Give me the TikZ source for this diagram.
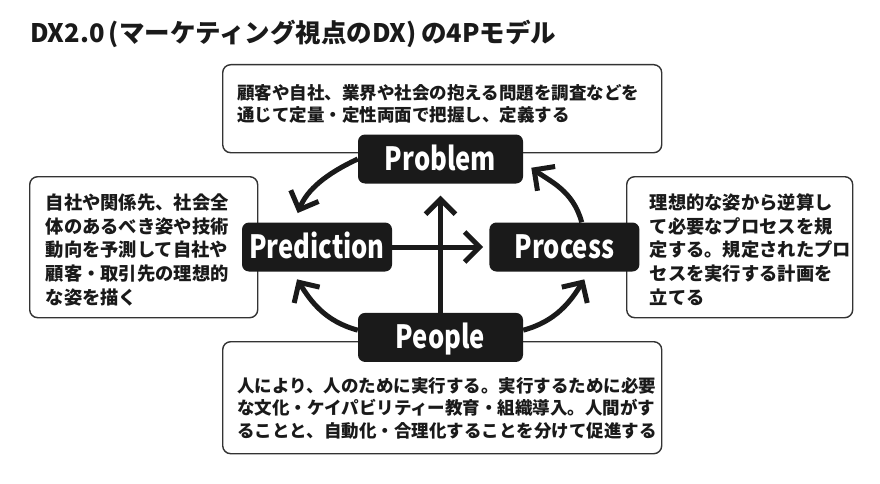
\documentclass[tikz,border=0pt]{standalone}
\usepackage{fontspec}
\setmainfont{Noto Sans CJK JP}
\newfontfamily\tagfont{Noto Sans CJK JP}[FakeStretch=0.8]
\usetikzlibrary{arrows.meta,positioning}
\definecolor{ink}{HTML}{1A1A1A}
\definecolor{frame}{HTML}{333333}
\tikzset{
  card/.style={draw=frame,line width=1.4pt,rounded corners=8pt,fill=white,align=left,
               anchor=north west,inner ysep=12pt,text=ink,
               font=\bfseries\fontsize{17.5}{22.5}\selectfont},
  sidecard/.style={card,font=\bfseries\fontsize{18.3}{23.75}\selectfont,
                   text height=20.7pt,text depth=96.3pt},
  tag/.style={fill=ink,rounded corners=7pt,minimum width=150pt,minimum height=49pt,
              text height=22pt,text depth=0pt,text=white,
              font=\tagfont\bfseries\fontsize{32}{32}\selectfont},
  arrow/.style={-{Straight Barb[length=15pt,width=30pt]},line width=5pt,draw=ink}
}
\begin{document}
\begin{tikzpicture}[x=1pt,y=-1pt]
\path[fill=white] (0,0) rectangle (880,484);
\useasboundingbox (0,0) rectangle (880,484);
\node[anchor=base west,text=ink,inner sep=0pt,font=\bfseries\fontsize{25.5}{25.5}\selectfont] (title) at (30,43)
  {DX2.0\,(マーケティング視点のDX)\,の4Pモデル};
% explanation cards
\node[card,text width=410pt,inner xsep=14.5pt,text height=22.7pt,text depth=41.3pt] (problemnote) at (222,64)
  {顧客や自社、業界や社会の抱える問題を調査などを\\通じて定量・定性両面で把握し、定義する};
\node[sidecard,text width=196pt,inner xsep=16pt] (predictnote) at (29,176)
  {自社や関係先、社会全\\体のあるべき姿や技術\\動向を予測して自社や\\顧客・取引先の理想的\\な姿を描く};
\node[sidecard,text width=180pt,inner xsep=23pt] (processnote) at (626,176)
  {理想的な姿から逆算し\\て必要なプロセスを規\\定する。規定されたプロ\\セスを実行する計画を\\立てる};
\node[card,text width=410pt,inner xsep=14.5pt,text height=38.7pt,text depth=49.3pt] (peoplenote) at (222,341)
  {人により、人のために実行する。実行するために必要\\な文化・ケイパビリティー教育・組織導入。人間がす\\ることと、自動化・合理化することを分けて促進する};
% the four P
\node[tag,minimum width=165pt] (problem) at (440.5,159) {Problem};
\node[tag] (predict) at (317,247) {Prediction};
\node[tag,right=97pt of predict] (process) {Process};
\node[tag,minimum width=165pt,below=129pt of problem] (people) {People};
\draw[arrow,shorten >=10pt] (problem.west) to[out=205,in=68] (predict.133);
\draw[arrow,shorten >=10pt] (process.55) to[out=105,in=-36] (problem.-2);
\draw[arrow,shorten >=9pt] (people.175) to[out=165,in=-58] (predict.225);
\draw[arrow,shorten >=9pt] (people.5) to[out=15,in=-122] (process.-45);
\draw[arrow,shorten >=6pt] (predict) -- (process);
\draw[arrow,shorten >=12pt] (people) -- (problem);
\end{tikzpicture}
\end{document}
